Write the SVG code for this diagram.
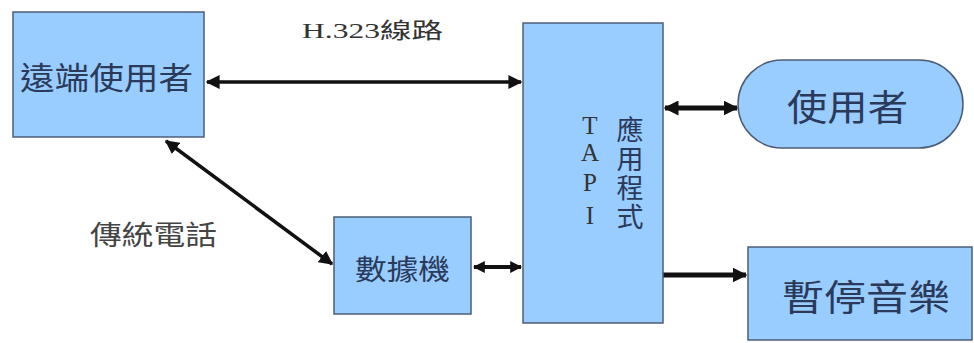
<svg xmlns="http://www.w3.org/2000/svg" width="974" height="343" viewBox="0 0 974 343">
<style>
.box{fill:#99ccff;stroke:#4d5d78;stroke-width:1.5}
.lbl{font-family:"Liberation Sans","Noto Sans CJK TC",sans-serif;fill:#2a3a5a}
.cap{font-family:"Liberation Serif","Noto Sans CJK TC",serif;fill:#333}
.ln{stroke:#111;fill:none}
</style>
<defs>
<marker id="ah" viewBox="0 0 10 10" refX="9" refY="5" markerWidth="4" markerHeight="4" orient="auto-start-reverse" markerUnits="strokeWidth">
<path d="M0,0 L10,5 L0,10 Z" fill="#111"/>
</marker>
<marker id="ah2" viewBox="0 0 10 10" refX="9" refY="5" markerWidth="3" markerHeight="3" orient="auto-start-reverse" markerUnits="strokeWidth">
<path d="M0,0 L10,5 L0,10 Z" fill="#111"/>
</marker>
</defs>
<g id="connectors">
<line class="ln" x1="207" y1="82" x2="521" y2="82" stroke-width="3.5" marker-start="url(#ah)" marker-end="url(#ah)"/>
<line class="ln" x1="166" y1="141" x2="332" y2="264" stroke-width="3.5" marker-start="url(#ah)" marker-end="url(#ah)"/>
<line class="ln" x1="474" y1="267" x2="521" y2="267" stroke-width="4" marker-start="url(#ah2)" marker-end="url(#ah2)"/>
<line class="ln" x1="665" y1="108" x2="737" y2="108" stroke-width="5" marker-start="url(#ah2)" marker-end="url(#ah2)"/>
<line class="ln" x1="663" y1="275" x2="746" y2="275" stroke-width="5" marker-end="url(#ah2)"/>
</g>
<g id="label-h323"><text class="cap" x="302" y="38" font-size="22" textLength="141" lengthAdjust="spacingAndGlyphs">H.323線路</text></g>
<g id="label-pstn"><text x="90" y="245" font-size="27" textLength="127" lengthAdjust="spacingAndGlyphs" font-family="'Liberation Sans','Noto Sans CJK TC',sans-serif" fill="#444">傳統電話</text></g>
<g id="remote-user">
<rect class="box" x="13" y="12" width="191" height="125"/>
<text class="lbl" x="20" y="89" font-size="31" textLength="173" lengthAdjust="spacingAndGlyphs">遠端使用者</text>
</g>
<g id="modem">
<rect class="box" x="334" y="217" width="137" height="97"/>
<text class="lbl" x="355" y="280" font-size="28" textLength="95" lengthAdjust="spacingAndGlyphs">數據機</text>
</g>
<g id="tapi">
<rect class="box" x="523" y="23" width="140" height="300"/>
<text class="cap" font-size="25" text-anchor="middle" fill="#1f2a40"><tspan x="590" y="134">T</tspan><tspan x="590" y="161">A</tspan><tspan x="590" y="191">P</tspan><tspan x="590" y="224">I</tspan></text>
<text class="lbl" font-size="27" text-anchor="middle"><tspan x="630" y="140">應</tspan><tspan x="630" y="169">用</tspan><tspan x="630" y="198">程</tspan><tspan x="630" y="227">式</tspan></text>
</g>
<g id="user">
<rect class="box" x="738" y="60" width="225" height="88" rx="44" ry="44"/>
<text class="lbl" x="787" y="121" font-size="36" textLength="121" lengthAdjust="spacingAndGlyphs">使用者</text>
</g>
<g id="hold-music">
<rect class="box" x="748" y="247" width="224" height="93"/>
<text class="lbl" x="782" y="311" font-size="36" textLength="168" lengthAdjust="spacingAndGlyphs">暫停音樂</text>
</g>
</svg>
